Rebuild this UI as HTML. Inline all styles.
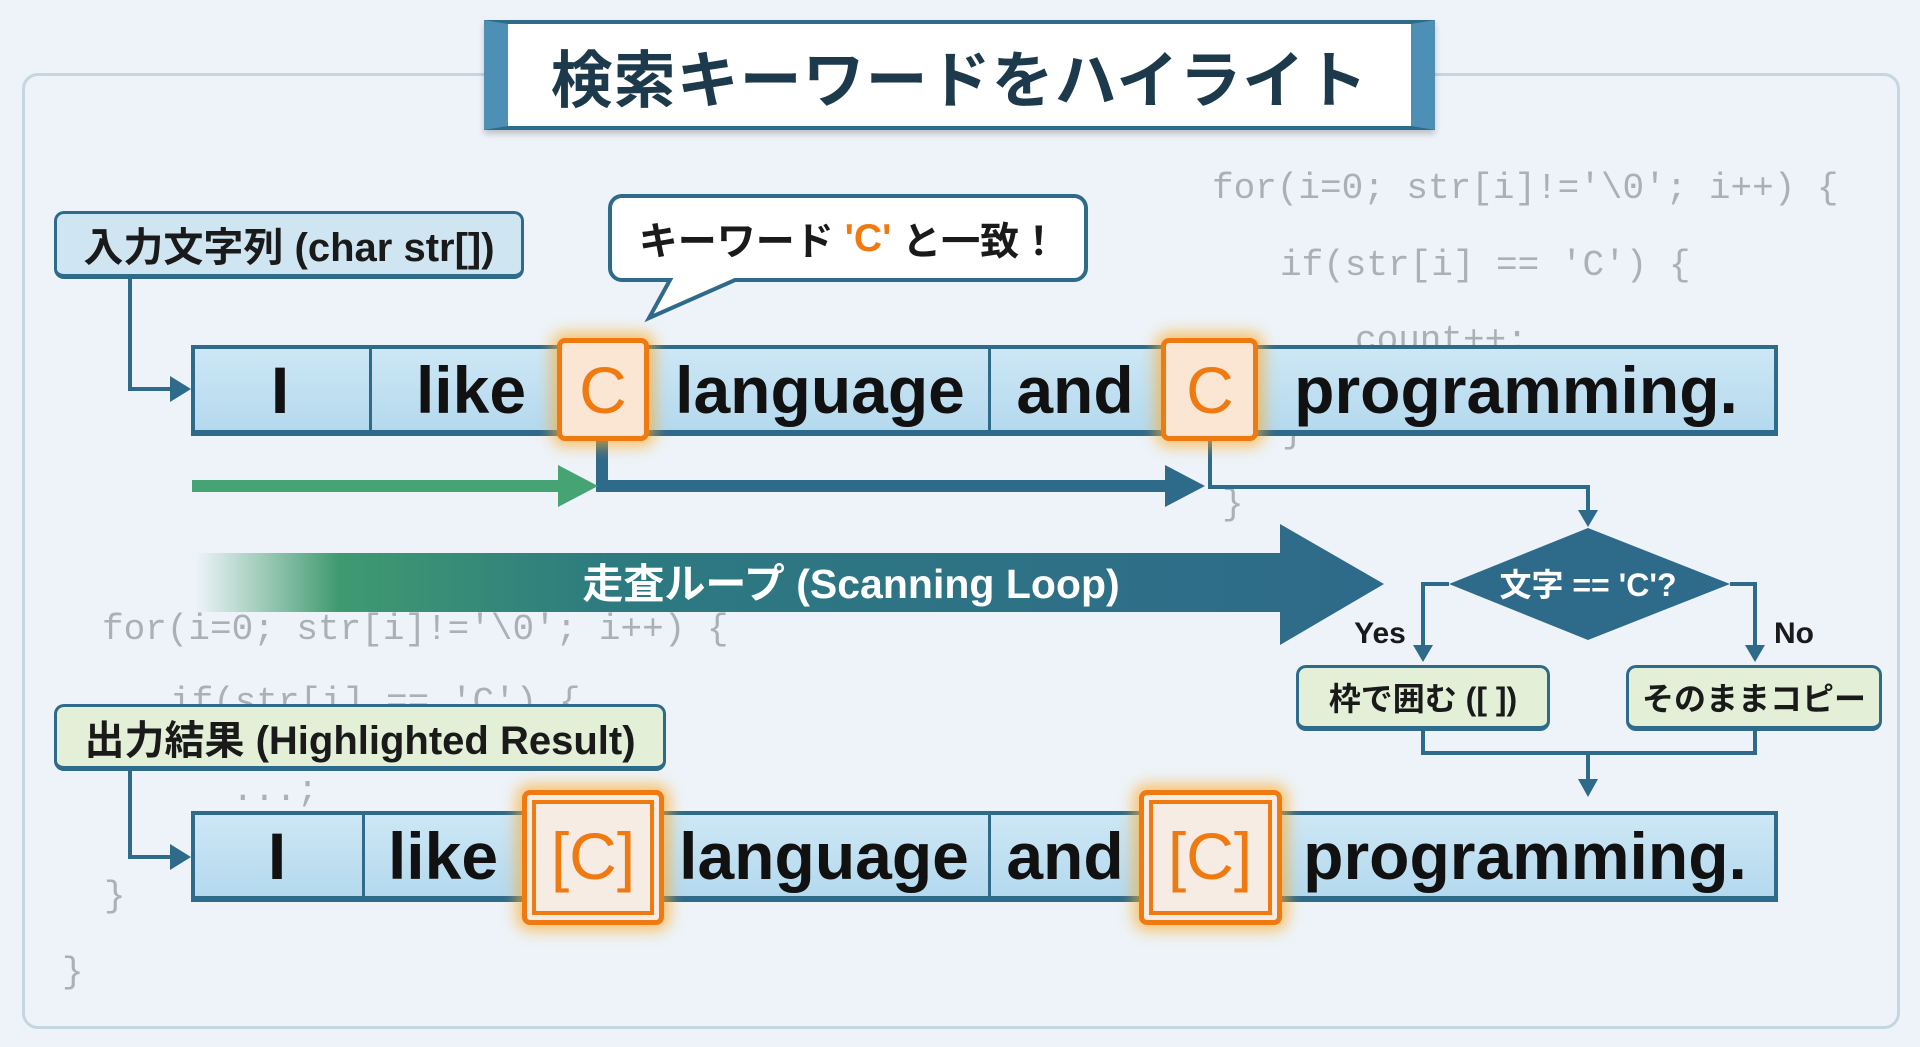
<!DOCTYPE html>
<html><head><meta charset="utf-8"><style>
*{margin:0;padding:0;box-sizing:border-box}
body{width:1920px;height:1047px;background:#edf3f8;position:relative;overflow:hidden;font-family:"Liberation Sans","Noto Sans CJK JP",sans-serif}
.a{position:absolute}
.code{position:absolute;font-family:"Liberation Mono",monospace;color:#a9b1b6;font-size:36px;white-space:pre}
.row{position:absolute;left:191px;width:1587px;height:91px;background:linear-gradient(#cde7f5,#b4d9ee);border:4px solid #2e6a8a;border-bottom-width:6px}
.div{position:absolute;top:0;bottom:0;width:3px;background:#2e6a8a}
.w{position:absolute;font-weight:bold;font-size:66px;color:#111;transform:translateX(-50%);white-space:nowrap;line-height:1}
.lab{position:absolute;border:3px solid #2e6a8a;border-bottom-width:5px;border-radius:10px;font-weight:bold;color:#1a1a1a;display:flex;align-items:center;justify-content:center;white-space:nowrap}
.cb{position:absolute;border:5px solid #f07a12;border-radius:8px;background:#fbe6d3;box-shadow:0 0 14px 6px rgba(255,170,40,.65)}
.oc{color:#f07a12}
</style></head><body>
<div class="a" style="left:22px;top:73px;width:1878px;height:956px;border:3px solid #c4d6e2;border-radius:16px"></div>

<div class="code" style="left:1212px;top:168px">for(i=0; str[i]!='\0'; i++) {</div>
<div class="code" style="left:1280px;top:245px">if(str[i] == 'C') {</div>
<div class="code" style="left:1355px;top:320px">count++;</div>
<div class="code" style="left:1282px;top:412px">}</div>
<div class="code" style="left:1222px;top:484px">}</div>
<div class="code" style="left:102px;top:609px">for(i=0; str[i]!='\0'; i++) {</div>
<div class="code" style="left:170px;top:682px">if(str[i] == 'C') {</div>
<div class="code" style="left:232px;top:770px">...;</div>
<div class="code" style="left:104px;top:876px">}</div>
<div class="code" style="left:62px;top:952px">}</div>

<!-- title -->
<div class="a" style="left:484px;top:20px;width:951px;height:110px;background:#fff;border:4px solid #2e6a8a;border-left:24px solid #4d8fb5;border-right:24px solid #4d8fb5;box-shadow:0 4px 6px rgba(0,0,0,.2);display:flex;align-items:center;justify-content:center;font-size:62px;font-weight:bold;color:#1d3a4c;letter-spacing:1px">検索キーワードをハイライト</div>

<svg class="a" style="left:0;top:0" width="1920" height="1047">
<defs><linearGradient id="g" x1="0" x2="1"><stop offset="0" stop-color="#48a06e" stop-opacity="0"/><stop offset=".12" stop-color="#3f9a70"/><stop offset=".35" stop-color="#2d7a80"/><stop offset="1" stop-color="#2e6a8a"/></linearGradient></defs>
<g stroke="#2e6a8a" fill="none">
<polyline points="130,279 130,389 175,389" stroke-width="4"/>
<polyline points="130,771 130,857 175,857" stroke-width="4"/>
<polyline points="1210,441 1210,487 1588,487 1588,512" stroke-width="4"/>
<polyline points="1449,584 1423,584 1423,648" stroke-width="4"/>
<polyline points="1730,584 1755,584 1755,648" stroke-width="4"/>
<polyline points="1423,731 1423,753 1755,753 1755,731" stroke-width="4"/>
<line x1="1588" y1="753" x2="1588" y2="782" stroke-width="4"/>
<polyline points="602,441 602,486 1175,486" stroke-width="12"/>
</g>
<g fill="#2e6a8a">
<polygon points="170,376 191,389 170,402"/><polygon points="170,844 191,857 170,870"/>
<polygon points="1578,510 1598,510 1588,527"/><polygon points="1413,645 1433,645 1423,662"/><polygon points="1745,645 1765,645 1755,662"/><polygon points="1578,779 1598,779 1588,797"/>
<polygon points="1165,465 1205,486 1165,507"/>
</g>
<line x1="192" y1="486" x2="562" y2="486" stroke="#46a474" stroke-width="12"/>
<polygon points="558,465 598,486 558,507" fill="#46a474"/>
<polygon points="196,553 1280,553 1280,524 1384,584 1280,645 1280,612 196,612" fill="url(#g)"/>
<text x="851" y="598" font-size="41" font-weight="bold" fill="#fff" text-anchor="middle" font-family="Liberation Sans,Noto Sans CJK JP,sans-serif">走査ループ (Scanning Loop)</text>
<polygon points="1588,528 1730,584 1588,640 1449,584" fill="#2e6a8a"/>
<text x="1588" y="596" font-size="32" font-weight="bold" fill="#fff" text-anchor="middle" font-family="Liberation Sans,Noto Sans CJK JP,sans-serif">文字 == 'C'?</text>
<text x="1380" y="643" font-size="30" font-weight="bold" fill="#1a1a1a" text-anchor="middle" font-family="Liberation Sans,sans-serif">Yes</text>
<text x="1794" y="643" font-size="30" font-weight="bold" fill="#1a1a1a" text-anchor="middle" font-family="Liberation Sans,sans-serif">No</text>
</svg>

<div class="lab" style="left:54px;top:211px;width:470px;height:68px;background:#cfe6f2;font-size:40px">入力文字列 (char str[])</div>
<div class="lab" style="left:54px;top:704px;width:612px;height:67px;background:#e3efd7;font-size:40px">出力結果 (Highlighted Result)</div>
<div class="lab" style="left:1296px;top:665px;width:254px;height:66px;background:#e3efd7;font-size:32px">枠で囲む ([ ])</div>
<div class="lab" style="left:1626px;top:665px;width:256px;height:66px;background:#e3efd7;font-size:32px">そのままコピー</div>

<!-- bubble -->
<svg class="a" style="left:600px;top:190px" width="500" height="135"><path d="M22,6 H474 a12,12 0 0 1 12,12 V78 a12,12 0 0 1 -12,12 H135 L49,128 L70,90 H22 a12,12 0 0 1 -12,-12 V18 a12,12 0 0 1 12,-12Z" fill="#fff" stroke="#2e6a8a" stroke-width="4"/></svg>
<div class="a" style="left:610px;top:196px;width:477px;height:86px;display:flex;align-items:center;justify-content:center;font-size:39px;font-weight:bold;color:#1a1a1a;white-space:nowrap">キーワード&nbsp;<span class="oc">'C'</span>&nbsp;と一致！</div>

<!-- top row -->
<div class="row" style="top:345px"><div class="div" style="left:174px"></div><div class="div" style="left:793px"></div></div>
<div class="cb" style="left:557px;top:338px;width:92px;height:103px"></div>
<div class="cb" style="left:1161px;top:338px;width:97px;height:103px"></div>
<div class="w" style="left:280px;top:357px">I</div>
<div class="w" style="left:471px;top:357px">like</div>
<div class="w oc" style="left:603px;top:357px;font-weight:normal">C</div>
<div class="w" style="left:820px;top:357px">language</div>
<div class="w" style="left:1075px;top:357px">and</div>
<div class="w oc" style="left:1210px;top:357px;font-weight:normal">C</div>
<div class="w" style="left:1516px;top:357px">programming.</div>

<!-- bottom row -->
<div class="row" style="top:811px"><div class="div" style="left:167px"></div><div class="div" style="left:793px"></div></div>
<div class="cb" style="left:522px;top:790px;width:142px;height:135px;background:#f6ece3;outline:4px solid #f07a12;outline-offset:-14px"></div>
<div class="cb" style="left:1139px;top:790px;width:143px;height:135px;background:#f6ece3;outline:4px solid #f07a12;outline-offset:-14px"></div>
<div class="w" style="left:277px;top:823px">I</div>
<div class="w" style="left:443px;top:823px">like</div>
<div class="w oc" style="left:593px;top:823px;font-weight:normal">[C]</div>
<div class="w" style="left:824px;top:823px">language</div>
<div class="w" style="left:1065px;top:823px">and</div>
<div class="w oc" style="left:1210px;top:823px;font-weight:normal">[C]</div>
<div class="w" style="left:1525px;top:823px">programming.</div>
</body></html>
